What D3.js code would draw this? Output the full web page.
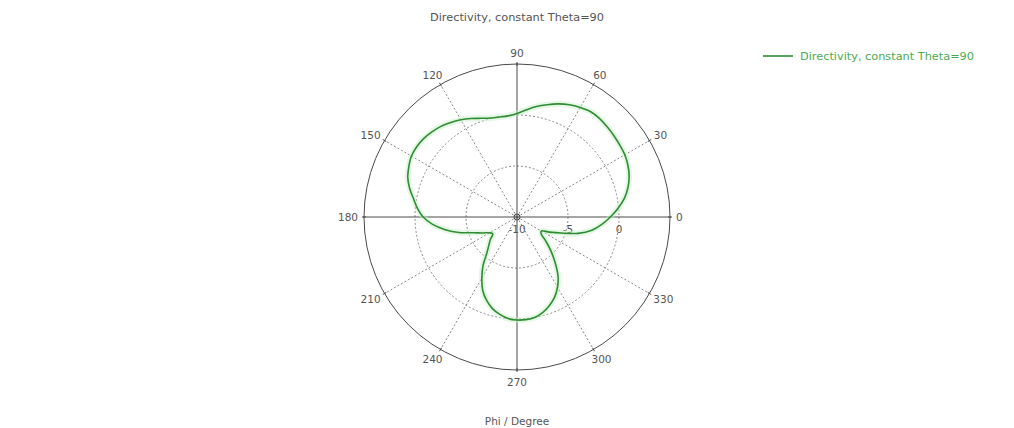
<!DOCTYPE html>
<html>
<head>
<meta charset="utf-8">
<script src="https://cdn.jsdelivr.net/npm/d3@7/dist/d3.min.js"></script>
<style>
  html, body { margin: 0; padding: 0; background: #fff; }
  svg { display: block; font-family: "DejaVu Sans", Verdana, sans-serif; }
</style>
</head>
<body>
<svg id="chart" width="1014" height="428"></svg>
<script>
// Directivity pattern in the phi plane (dB), sampled every 5 degrees
const phiDeg = [
  0, 5, 10, 15, 20, 25, 30, 35, 40, 45, 50, 55,
  60, 65, 70, 75, 80, 85, 90, 95, 100, 105, 110, 115,
  120, 125, 130, 135, 140, 145, 150, 155, 160, 165, 170, 175,
  180, 185, 190, 195, 200, 205, 210, 215, 220, 225, 230, 235,
  240, 245, 250, 255, 260, 265, 270, 275, 280, 285, 290, 295,
  300, 305, 310, 315, 320, 325, 330, 335, 340, 345, 350, 355
];
const directivityDb = [
  -0.85, -0.05, 0.7, 1.27, 1.7, 2.0, 2.2, 2.3, 2.4, 2.5, 2.6, 2.6,
  2.4, 2.15, 1.8, 1.4, 1.0, 0.55, 0.15, -0.05, -0.05, 0.05, 0.3, 0.65,
  1.0, 1.3, 1.6, 1.8, 1.95, 2.0, 1.95, 1.7, 1.4, 0.9, 0.3, -0.2,
  -0.8, -1.7, -2.85, -4.1, -5.5, -6.3, -6.9, -7.1, -6.6, -6.1, -5.4, -4.2,
  -3.1, -2.05, -1.3, -0.7, -0.3, 0.0, 0.1, 0.1, 0.0, -0.3, -0.75, -1.3,
  -2.05, -3.0, -4.2, -5.3, -6.3, -7.1, -7.25, -6.5, -5.4, -3.8, -2.55, -1.65
];
const angleTicks = [0, 30, 60, 90, 120, 150, 180, 210, 240, 270, 300, 330];
const radialTicks = [-10, -5, 0, 5];
const radialLabels = [-10, -5, 0];
const chartTitle = "Directivity, constant Theta=90";
const seriesName = "Directivity, constant Theta=90";
const axisTitle = "Phi / Degree";

const svg = d3.select("#chart");
const cx = 517, cy = 217, R = 153;
const green = "#2e8c33";
const gridGrey = "#8a8a8a";
const axisGrey = "#4a4a4a";
const textGrey = "#555";

const rScale = d3.scaleLinear().domain([-10, 5]).range([0, R]);
const toRad = d => d * Math.PI / 180;
// phi measured counter-clockwise from the +x axis
const px = (phi, r) => cx + r * Math.cos(toRad(phi));
const py = (phi, r) => cy - r * Math.sin(toRad(phi));

const g = svg.append("g");

// dotted inner rings
g.selectAll("circle.ring")
  .data(radialTicks.filter(t => t > -10 && t < 5))
  .join("circle")
  .attr("class", "ring")
  .attr("cx", cx).attr("cy", cy)
  .attr("r", d => rScale(d))
  .attr("fill", "none")
  .attr("stroke", gridGrey)
  .attr("stroke-width", 1)
  .attr("stroke-dasharray", "2,2");

// dotted spokes
g.selectAll("line.spoke")
  .data(angleTicks.filter(a => a % 90 !== 0))
  .join("line")
  .attr("class", "spoke")
  .attr("x1", cx).attr("y1", cy)
  .attr("x2", d => px(d, R)).attr("y2", d => py(d, R))
  .attr("stroke", gridGrey)
  .attr("stroke-width", 1)
  .attr("stroke-dasharray", "2,2");

// outer circle
g.append("circle")
  .attr("cx", cx).attr("cy", cy).attr("r", R)
  .attr("fill", "none")
  .attr("stroke", axisGrey)
  .attr("stroke-width", 1);

// solid main axes
[[0, 180], [90, 270]].forEach(([a, b]) => {
  g.append("line")
    .attr("x1", px(a, R + 1)).attr("y1", py(a, R + 1))
    .attr("x2", px(b, R + 1)).attr("y2", py(b, R + 1))
    .attr("stroke", axisGrey)
    .attr("stroke-width", 1);
});

// small ticks on the outer circle
g.selectAll("line.tick")
  .data(angleTicks)
  .join("line")
  .attr("class", "tick")
  .attr("x1", d => px(d, R - 2)).attr("y1", d => py(d, R - 2))
  .attr("x2", d => px(d, R + 2)).attr("y2", d => py(d, R + 2))
  .attr("stroke", axisGrey)
  .attr("stroke-width", 1);

// centre marker
g.append("circle")
  .attr("cx", cx).attr("cy", cy).attr("r", 3)
  .attr("fill", "none")
  .attr("stroke", axisGrey)
  .attr("stroke-width", 1);

// angle labels placed just outside the circle
const labelG = g.append("g")
  .attr("font-size", "10.5px")
  .attr("fill", textGrey);
angleTicks.forEach(a => {
  const t = labelG.append("text").text(a)
    .attr("text-anchor", "middle")
    .attr("dominant-baseline", "central");
  const w = t.node().getComputedTextLength();
  const h = 11;
  const c = Math.cos(toRad(a)), s = Math.sin(toRad(a));
  const x = px(a, R + 6) + c * w / 2;
  const y = py(a, R + 6) - s * h / 2;
  t.attr("x", x).attr("y", y);
});

// radial value labels along the 0-degree axis
g.selectAll("text.rlabel")
  .data(radialLabels)
  .join("text")
  .attr("class", "rlabel")
  .attr("x", d => px(0, rScale(d)))
  .attr("y", cy + 16)
  .attr("text-anchor", "middle")
  .attr("font-size", "10.5px")
  .attr("fill", textGrey)
  .text(d => d);

// pattern curve
const pts = phiDeg.map((p, i) => ({ phi: p, v: directivityDb[i] }));
const line = d3.lineRadial()
  .angle(d => toRad(90 - d.phi))
  .radius(d => rScale(Math.max(-10, d.v)))
  .curve(d3.curveCatmullRomClosed.alpha(0.5));

const curveG = g.append("g").attr("transform", `translate(${cx},${cy})`);
curveG.append("path")
  .attr("d", line(pts))
  .attr("fill", "none")
  .attr("stroke", "#c6efc6")
  .attr("stroke-opacity", 0.45)
  .attr("stroke-width", 6);
curveG.append("path")
  .attr("d", line(pts))
  .attr("fill", "none")
  .attr("stroke", green)
  .attr("stroke-width", 1.6);

// title and axis title
svg.append("text")
  .attr("x", cx).attr("y", 21)
  .attr("text-anchor", "middle")
  .attr("font-size", "11.3px")
  .attr("fill", textGrey)
  .text(chartTitle);

svg.append("text")
  .attr("x", cx).attr("y", 425)
  .attr("text-anchor", "middle")
  .attr("font-size", "10.5px")
  .attr("fill", textGrey)
  .text(axisTitle);

// legend
const leg = svg.append("g");
leg.append("line")
  .attr("x1", 763).attr("x2", 793)
  .attr("y1", 56).attr("y2", 56)
  .attr("stroke", green)
  .attr("stroke-width", 1.6);
leg.append("text")
  .attr("x", 800).attr("y", 60)
  .attr("font-size", "11.3px")
  .attr("fill", "#4caa4f")
  .text(seriesName);
</script>
</body>
</html>
